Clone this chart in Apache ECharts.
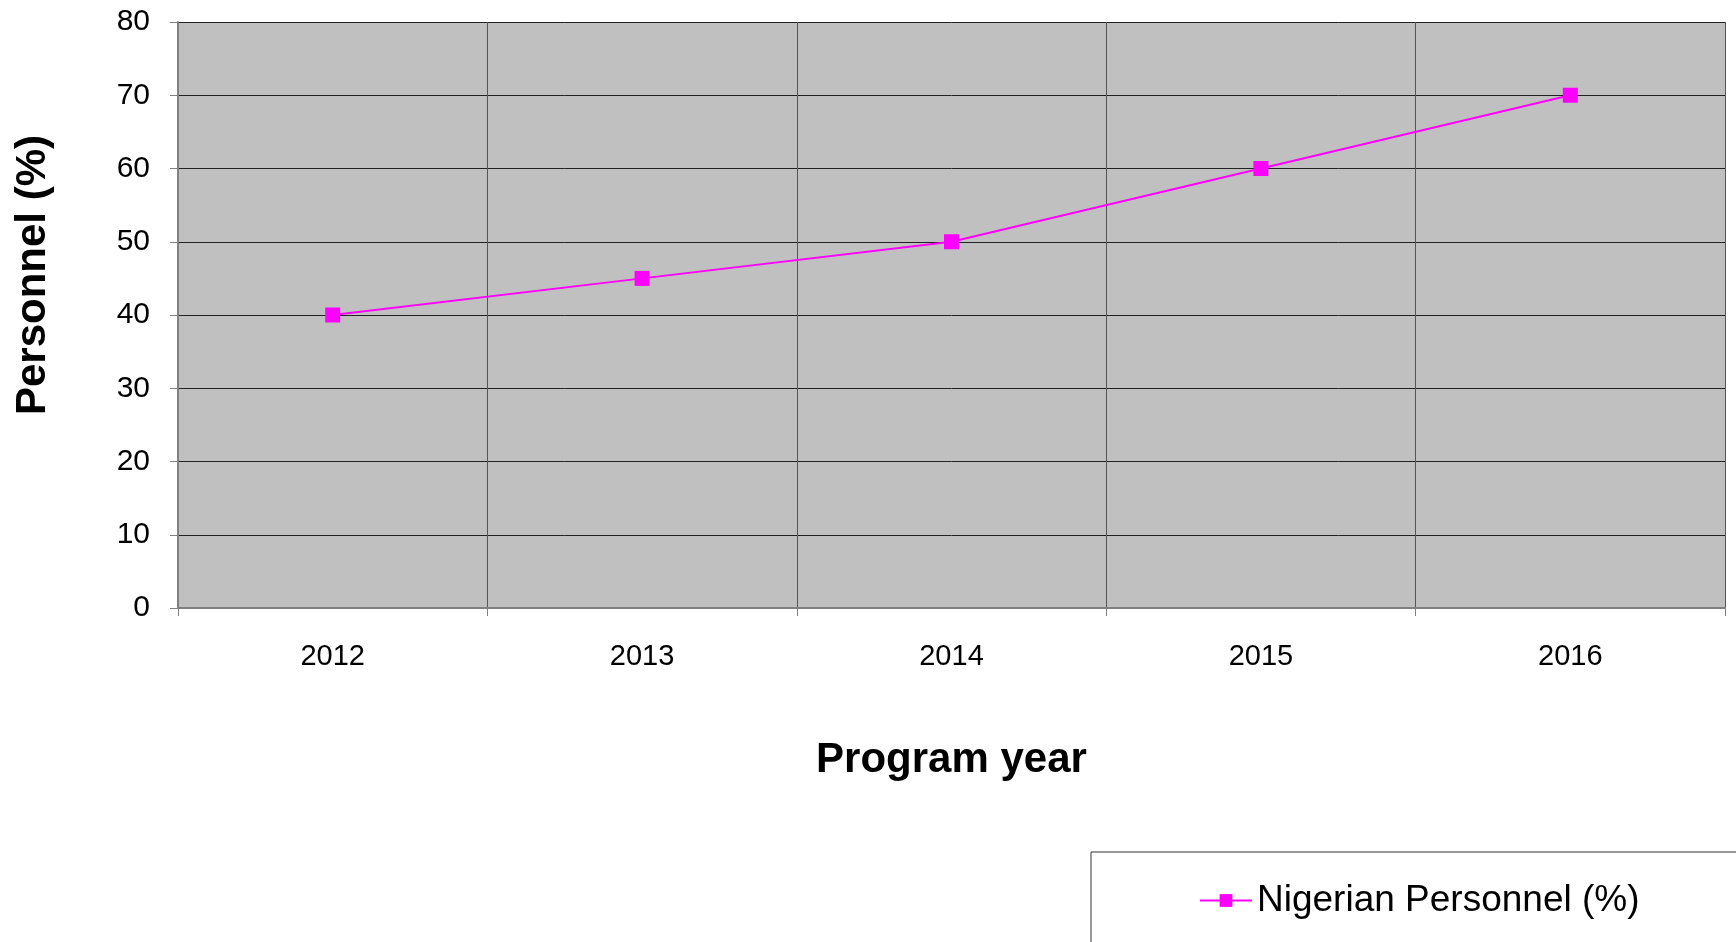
<!DOCTYPE html>
<html>
<head>
<meta charset="utf-8">
<script src="https://cdn.jsdelivr.net/npm/echarts@6/dist/echarts.min.js"></script>
<style>
  html, body { margin: 0; padding: 0; background: #fff; }
  #chart { width: 1736px; height: 942px; }
</style>
</head>
<body>
<div id="chart"></div>
<script>
const years = ['2012', '2013', '2014', '2015', '2016']
const nigerianPersonnel = [40, 45, 50, 60, 70]
const seriesName = 'Nigerian Personnel (%)'

const chart = echarts.init(document.getElementById('chart'))

const font = '"Liberation Sans", Arial, sans-serif'

chart.setOption({
  animation: false,
  textStyle: { fontFamily: font },
  grid: {
    left: 178,
    right: 11,
    top: 22,
    bottom: 334,
    outerBoundsMode: 'none',
    containLabel: false,
    show: true,
    backgroundColor: '#c0c0c0',
    borderWidth: 0
  },
  legend: {
    left: 1091,
    top: 852,
    padding: [30, 160, 60, 108],
    borderColor: '#333',
    borderWidth: 1,
    itemWidth: 52,
    itemHeight: 16,
    itemGap: 4,
    textStyle: { fontSize: 37, color: '#000', fontFamily: font },
    data: [seriesName]
  },
  xAxis: {
    type: 'category',
    data: years,
    boundaryGap: true,
    name: 'Program year',
    nameLocation: 'middle',
    nameGap: 131,
    nameTextStyle: { fontSize: 42, fontWeight: 'bold', color: '#000' },
    axisLine: { lineStyle: { color: '#808080', width: 2 } },
    axisTick: { show: true, length: 8, lineStyle: { color: '#808080' } },
    axisLabel: { fontSize: 29, color: '#000', margin: 34 },
    splitLine: { show: true, lineStyle: { color: '#555', width: 1 } }
  },
  yAxis: {
    type: 'value',
    min: 0,
    max: 80,
    interval: 10,
    name: 'Personnel (%)',
    nameLocation: 'middle',
    nameGap: 124,
    nameRotate: 90,
    nameTextStyle: { fontSize: 42, fontWeight: 'bold', color: '#000', padding: [0, 0, 0, 80] },
    axisLine: { show: true, lineStyle: { color: '#808080', width: 2 } },
    axisTick: { show: true, length: 8, lineStyle: { color: '#808080' } },
    axisLabel: { fontSize: 30, color: '#000', margin: 28 },
    splitLine: { show: true, lineStyle: { color: '#222', width: 1 } }
  },
  series: [{
    name: seriesName,
    type: 'line',
    data: nigerianPersonnel,
    symbol: 'rect',
    symbolSize: 15,
    lineStyle: { color: '#ff00ff', width: 2 },
    itemStyle: { color: '#ff00ff' }
  }]
})
</script>
</body>
</html>
